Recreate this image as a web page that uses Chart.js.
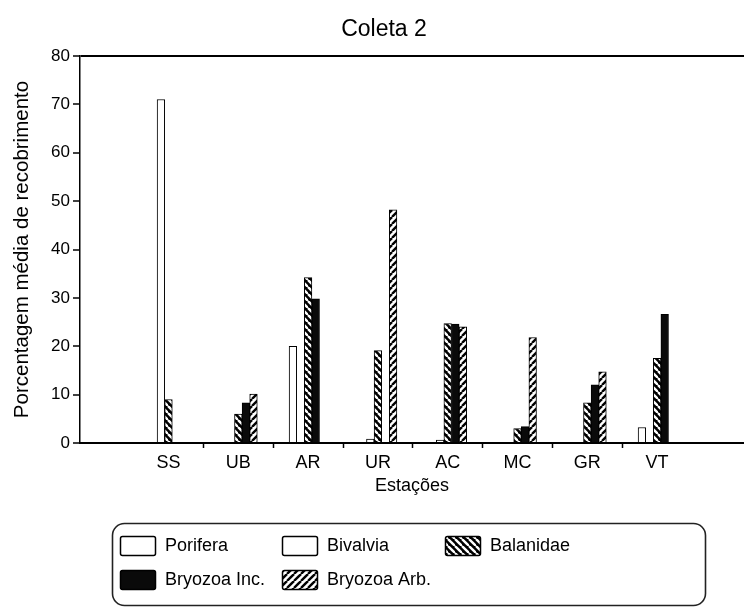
<!DOCTYPE html>
<html><head><meta charset="utf-8">
<script src="https://cdn.jsdelivr.net/npm/chart.js@4/dist/chart.umd.min.js"></script>
<style>html,body{margin:0;padding:0;background:#fff;overflow:hidden}canvas{display:block}</style>
</head><body>
<canvas id="c" width="744" height="607"></canvas>
<script>
// ---- data ----
const stations   = ['SS','UB','AR','UR','AC','MC','GR','VT'];
const porifera   = [0,   0,    20,   0,    0,    0,    0,    3.2];
const bivalvia   = [71,  0,    0,    0.8,  0.6,  0,    0,    0];
const balanidae  = [9,   6,    34.2, 19.1, 24.7, 3,    8.3,  17.5];
const bryozoaInc = [0,   8.3,  29.8, 0,    24.6, 3.4,  12,   26.6];
const bryozoaArb = [0,   10.1, 0,    48.2, 24,   21.8, 14.7, 0];
const seriesNames = ['Porifera','Bivalvia','Balanidae','Bryozoa Inc.','Bryozoa Arb.'];
const yTicks = [0,10,20,30,40,50,60,70,80];

const canvas = document.getElementById('c');
const mainCtx = canvas.getContext('2d');
function stripes(bg, fg, dir) {
  const s = 7;
  const c = document.createElement('canvas'); c.width = s; c.height = s;
  const g = c.getContext('2d');
  g.fillStyle = bg; g.fillRect(0,0,s,s);
  g.strokeStyle = fg; g.lineWidth = 2.4;
  for (const o of [-s, 0, s]) {
    g.beginPath();
    if (dir === 'back') { g.moveTo(o, 0); g.lineTo(o + s, s); }
    else { g.moveTo(o, s); g.lineTo(o + s, 0); }
    g.stroke();
  }
  return mainCtx.createPattern(c, 'repeat');
}
const fills = ['#ffffff', '#ffffff', stripes('#000','#fff','back'), '#0a0a0a', stripes('#fff','#000','fwd')];
const series = [porifera, bivalvia, balanidae, bryozoaInc, bryozoaArb];

Chart.defaults.font.family = "'Liberation Sans', Arial, Helvetica, sans-serif";
Chart.defaults.color = '#000';

function rr(ctx, x, y, w, h, r) {
  ctx.beginPath();
  ctx.moveTo(x + r, y);
  ctx.arcTo(x + w, y, x + w, y + h, r);
  ctx.arcTo(x + w, y + h, x, y + h, r);
  ctx.arcTo(x, y + h, x, y, r);
  ctx.arcTo(x, y, x + w, y, r);
  ctx.closePath();
}

const gridLegend = {
  id: 'gridLegend',
  afterDraw(chart) {
    const ctx = chart.ctx;
    ctx.save();
    rr(ctx, 112.5, 523.5, 593, 82, 12);
    ctx.lineWidth = 1.6; ctx.strokeStyle = '#222'; ctx.stroke();
    const colX = [120, 282, 445], rowY = [536, 570];
    ctx.font = "18px 'Liberation Sans', Arial, sans-serif";
    ctx.textBaseline = 'middle'; ctx.textAlign = 'left'; ctx.fillStyle = '#000';
    chart.data.datasets.forEach((ds, k) => {
      const x = colX[k % 3], y = rowY[Math.floor(k / 3)];
      rr(ctx, x + 0.5, y + 0.5, 35, 19, 2);
      ctx.fillStyle = ds.backgroundColor; ctx.fill();
      ctx.lineWidth = 1.5; ctx.strokeStyle = '#000'; ctx.stroke();
      ctx.fillStyle = '#000';
      ctx.fillText(ds.label, x + 45, y + 10.5);
    });
    ctx.restore();
  }
};

new Chart(canvas, {
  type: 'bar',
  data: {
    datasets: series.map((arr, k) => ({
      label: seriesNames[k],
      data: arr.map((v, i) => ({x: i + 1, y: v})),
      backgroundColor: fills[k],
      borderColor: '#000',
      borderWidth: 1,
      barThickness: 7.6
    }))
  },
  options: {
    responsive: false,
    animation: false,
    events: [],
    layout: {padding: {left: 24, right: 0, top: 0, bottom: 104}},
    plugins: {
      legend: {display: false},
      tooltip: {enabled: false},
      title: {display: true, text: 'Coleta 2', color: '#000',
              font: {size: 23, weight: 'normal'}, padding: {top: 16, bottom: 12.4}}
    },
    scales: {
      x: {
        type: 'linear', min: -0.268, max: 9.245, bounds: 'data', offset: false,
        afterBuildTicks: s => { s.ticks = stations.map((l, i) => ({value: i + 1})); },
        afterFit: s => { s.height = 60; },
        ticks: {callback: v => stations[v - 1] ?? '', font: {size: 18}, color: '#000',
                padding: 4, autoSkip: false, maxRotation: 0},
        grid: {offset: true, drawOnChartArea: false, tickLength: 5, tickWidth: 1.5,
               tickColor: c => (c.index >= 1 && c.index <= 7) ? '#000' : 'rgba(0,0,0,0)'},
        border: {color: '#000', width: 2},
        title: {display: true, text: 'Estações', color: '#000', font: {size: 18},
                padding: {top: 0, bottom: 6}}
      },
      y: {
        min: 0, max: 80,
        afterBuildTicks: s => { s.ticks = yTicks.map(v => ({value: v})); },
        afterFit: s => { s.width = 56; },
        ticks: {font: {size: 17}, color: '#000', padding: 3},
        grid: {color: c => (c.tick && c.tick.value === 80) ? '#000' : 'rgba(0,0,0,0)',
               lineWidth: 2, tickLength: 7, tickWidth: 1.5, tickColor: '#000'},
        border: {color: '#000', width: 1.5},
        title: {display: true, text: 'Porcentagem média de recobrimento', color: '#000',
                font: {size: 20.5}, padding: {top: -14, bottom: 0}}
      }
    }
  },
  plugins: [gridLegend]
});
</script>
</body></html>
